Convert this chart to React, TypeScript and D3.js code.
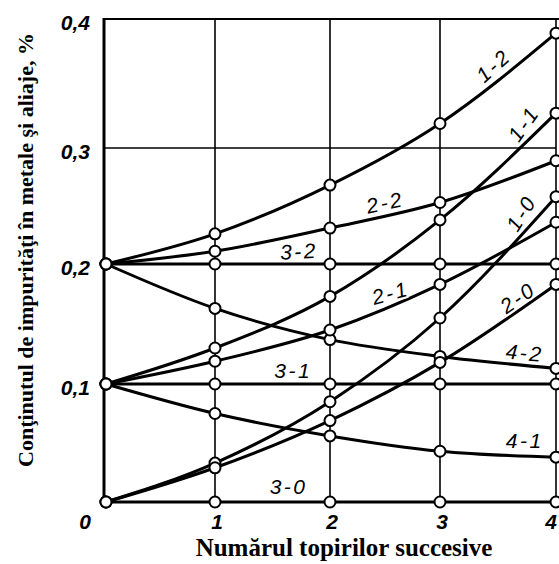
import React from "react";
import * as d3 from "d3";

// ---- data ----
const meltings = [0, 1, 2, 3, 4];
const xTickLabels = ["0", "1", "2", "3", "4"];
const yTicks = [0.1, 0.2, 0.3, 0.4];
const yTickLabels = ["0,1", "0,2", "0,3", "0,4"];

const s12 = [0.2, 0.226, 0.268, 0.319, 0.389];
const s22 = [0.2, 0.211, 0.231, 0.253, 0.289];
const s32 = [0.2, 0.2, 0.2, 0.2, 0.2];
const s42 = [0.2, 0.163, 0.137, 0.123, 0.113];
const s11 = [0.1, 0.13, 0.173, 0.238, 0.327];
const s21 = [0.1, 0.119, 0.145, 0.183, 0.236];
const s31 = [0.1, 0.1, 0.1, 0.1, 0.1];
const s41 = [0.1, 0.075, 0.056, 0.043, 0.038];
const s10 = [0, 0.033, 0.085, 0.155, 0.258];
const s20 = [0, 0.029, 0.069, 0.118, 0.183];
const s30 = [0, 0, 0, 0, 0];

const seriesNames = ["1-2", "2-2", "3-2", "4-2", "1-1", "2-1", "3-1", "4-1", "1-0", "2-0", "3-0"];
const seriesValues = [s12, s22, s32, s42, s11, s21, s31, s41, s10, s20, s30];

// label anchor (in data units) and rotation for each series label
const labelX = [3.46, 2.5, 1.73, 3.73, 3.72, 2.55, 1.68, 3.73, 3.7, 3.67, 1.64];
const labelY = [0.364, 0.253, 0.211, 0.126, 0.319, 0.176, 0.111, 0.052, 0.244, 0.172, 0.013];
const labelRot = [-42, -12, -3, 5, -55, -15, 0, 0, -58, -35, 0];

const W = 559;
const H = 564;

export default function App() {
  const x = d3.scaleLinear().domain(meltings).range([106, 215, 330, 440, 556]);
  const y = d3.scaleLinear().domain([0, 0.1, 0.2, 0.3, 0.4]).range([502, 384, 264, 148, 19]);

  const line = d3
    .line<number>()
    .x((_, i) => x(meltings[i]))
    .y((d) => y(d))
    .curve(d3.curveMonotoneX);

  const top = y(0.4);
  const bottom = y(0);
  const left = x(0) - 2;
  const right = x(4);

  const tickFont = "'Liberation Sans', Arial, sans-serif";
  const serif = "'Liberation Serif', 'Times New Roman', serif";

  return (
    <div style={{ position: "absolute", left: 0, top: 0 }}>
      <svg width={W} height={H} style={{ display: "block", background: "#fff" }}>
        {/* vertical grid lines */}
        {meltings.slice(1).map((m) => (
          <line key={"vg" + m} x1={x(m)} x2={x(m)} y1={top} y2={bottom} stroke="#000" strokeWidth={1.6} />
        ))}
        {/* horizontal grid at 0.3 */}
        <line x1={left} x2={right} y1={y(0.3)} y2={y(0.3)} stroke="#000" strokeWidth={1.6} />
        {/* frame */}
        <line x1={left} x2={W} y1={top} y2={top} stroke="#000" strokeWidth={2.2} />
        <line x1={left} x2={left} y1={top - 1} y2={bottom} stroke="#000" strokeWidth={3} />

        {/* series lines */}
        {seriesValues.map((vals, i) => (
          <path key={"l" + i} d={line(vals) || ""} fill="none" stroke="#000" strokeWidth={3} />
        ))}
        {/* markers */}
        {seriesValues.map((vals, i) =>
          vals.map((v, j) => (
            <circle key={"c" + i + "-" + j} cx={x(meltings[j])} cy={y(v)} r={5.5} fill="#fff" stroke="#000" strokeWidth={2} />
          ))
        )}

        {/* series labels */}
        {seriesNames.map((name, i) => (
          <text
            key={"t" + i}
            transform={`translate(${x(labelX[i])},${y(labelY[i])}) rotate(${labelRot[i]})`}
            textAnchor="middle"
            dominantBaseline="central"
            fontFamily={tickFont}
            fontStyle="italic"
            fontSize={21}
            letterSpacing={2.5}
            fill="#000"
            stroke="#fff"
            strokeWidth={4}
            paintOrder="stroke"
          >
            {name}
          </text>
        ))}

        {/* y tick labels */}
        {yTicks.map((t, i) => (
          <text
            key={"yt" + i}
            x={90}
            y={y(t) + 3}
            textAnchor="end"
            dominantBaseline="central"
            fontFamily={tickFont}
            fontStyle="italic"
            fontWeight="bold"
            fontSize={21}
          >
            {yTickLabels[i]}
          </text>
        ))}
        {/* x tick labels */}
        {meltings.map((m, i) => (
          <text
            key={"xt" + i}
            x={i === 0 ? 85 : Math.min(x(m) + 2, W - 8)}
            y={521}
            textAnchor="middle"
            dominantBaseline="central"
            fontFamily={tickFont}
            fontStyle="italic"
            fontWeight="bold"
            fontSize={21}
          >
            {xTickLabels[i]}
          </text>
        ))}

        {/* axis titles */}
        <text
          transform={`translate(33,250) rotate(-90)`}
          textAnchor="middle"
          fontFamily={serif}
          fontWeight="bold"
          fontSize={22}
        >
          Conţinutul de impurităţi în metale şi aliaje, %
        </text>
        <text x={344} y={556} textAnchor="middle" fontFamily={serif} fontWeight="bold" fontSize={25}>
          Numărul topirilor succesive
        </text>
      </svg>
    </div>
  );
}
